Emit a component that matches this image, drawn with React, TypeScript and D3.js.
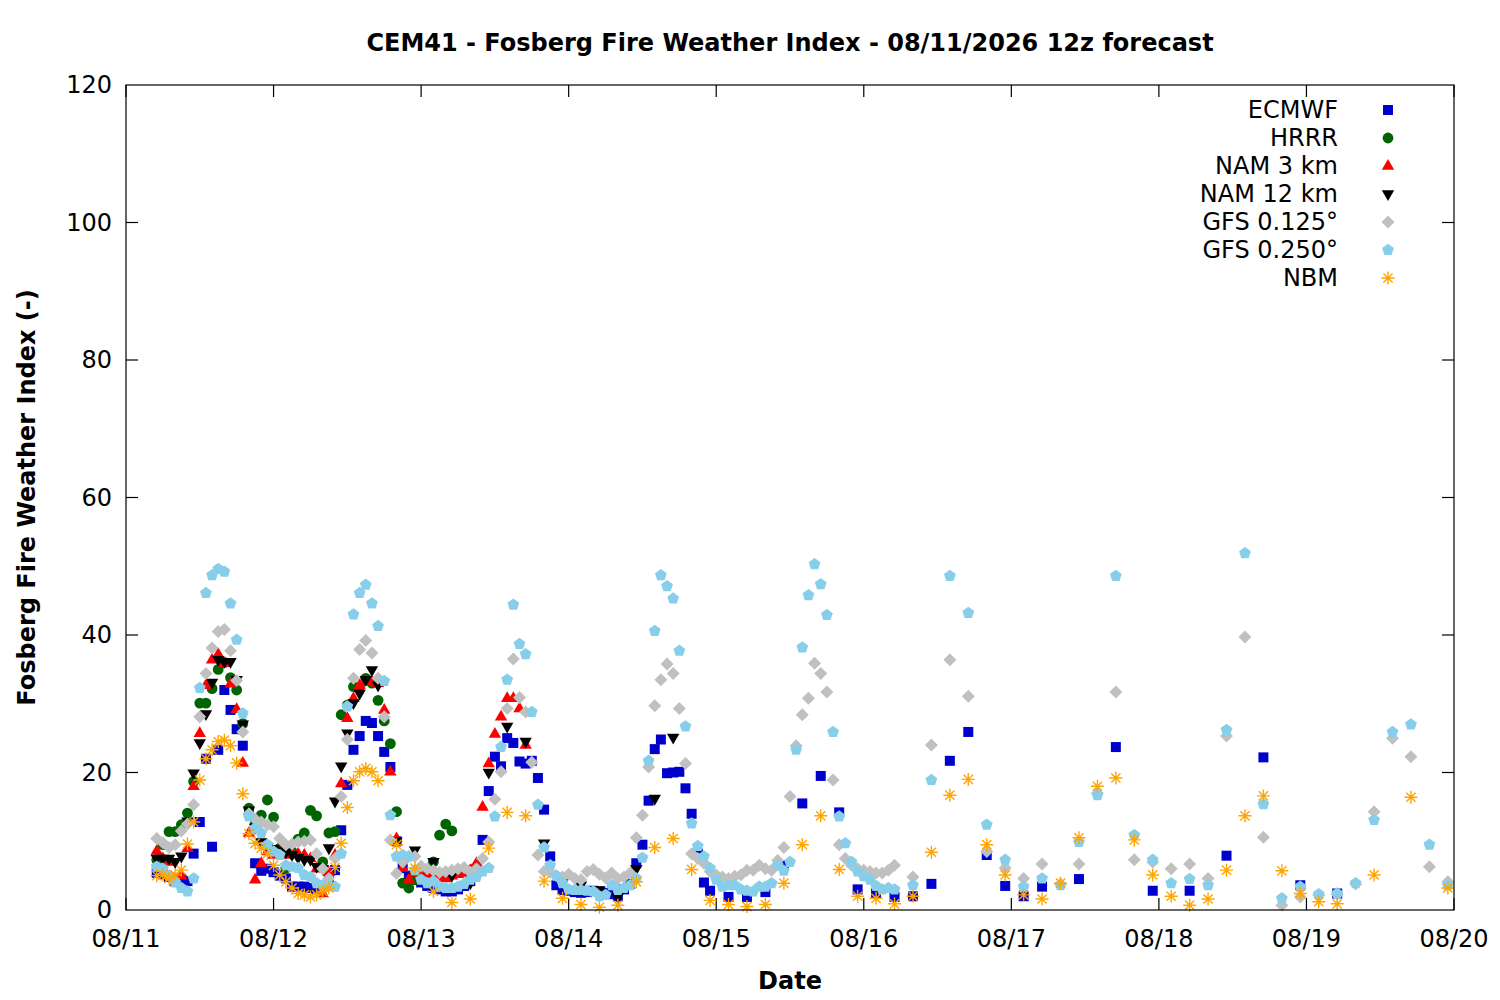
import React, { useEffect, useRef } from "react";
import * as d3 from "d3";

// run start (12z) shown in local time on the axis
const runStart = Date.UTC(2026, 7, 11, 5);
const axisStart = Date.UTC(2026, 7, 11);
const axisEnd = Date.UTC(2026, 7, 20);
const yTicks = [0, 20, 40, 60, 80, 100, 120];

// ECMWF: hourly to +90h, 3-hourly to +141h, 6-hourly after
const ecmwfHourly = [
  5.4, 5.2, 4.8, 4.6, 4.5, 4.2, 8.2, 12.8, 22.0, 9.2,
  23.3, 32.0, 29.1, 26.3, 23.9, 14.1, 6.8, 5.7, 6.0, 5.5,
  5.0, 4.6, 3.4, 3.4, 3.4, 3.2, 3.0, 3.5, 4.5, 5.8,
  11.6, 18.2, 23.3, 25.3, 27.5, 27.2, 25.3, 23.0, 20.8, 10.0,
  6.1, 5.0, 4.5, 4.0, 3.5, 3.2, 3.0, 2.7, 2.7, 3.0,
  3.5, 4.2, 6.0, 10.2, 17.3, 22.3, 20.9, 25.0, 24.3, 21.6,
  21.3, 21.7, 19.2, 14.6, 7.8, 3.6, 2.9, 2.8, 2.6, 2.5,
  2.6, 2.8, 2.7, 2.5, 2.3, 2.0, 3.0, 3.8, 6.8, 9.5,
  15.9, 23.4, 24.8, 19.9, 20.0, 20.1, 17.7, 14.0, 8.2, 4.0,
  2.8,
];
const ecmwf3h = [1.9, 1.9, 2.6, 6.5, 15.5, 19.5, 14.2, 3.0, 2.4, 1.9, 2.0, 3.8, 21.7, 25.9, 8.0, 3.5, 2.0];
const ecmwf6h = [3.4, 4.5, 23.7, 2.8, 2.8, 7.9, 22.2, 3.6, 2.4];

const hrrrHourly = [
  7.3, 9.5, 11.4, 11.4, 12.4, 14.1, 18.7, 30.1, 30.1, 32.2,
  35.0, 36.0, 33.8, 32.0, 27.1, 14.8, 12.5, 13.8, 16.0, 13.5,
  9.0, 6.1, 8.5, 10.3, 11.2, 14.5, 13.7, 7.0, 11.2, 11.4,
  28.4, 29.8, 32.5, 32.4, 33.7, 33.0, 30.5, 27.5, 24.2, 14.3,
  3.9, 3.2, 4.4, 4.8, 5.0, 7.0, 10.9, 12.5, 11.5,
];

const nam3Hourly = [
  8.6, 7.5, 7.0, 4.0, 5.0, 9.0, 18.0, 25.7, 32.7, 36.4,
  37.2, 35.9, 32.9, 29.2, 21.4, 11.2, 4.4, 6.8, 8.5, 8.0,
  8.7, 8.0, 8.2, 8.2, 8.0, 7.5, 6.0, 2.4, 5.5, 8.0,
  18.4, 27.9, 30.8, 32.7, 33.2, 33.2, 33.0, 29.1, 20.1, 10.4,
  6.1, 4.4, 5.4, 5.2, 5.0, 5.0, 4.8, 4.6, 5.0, 5.2,
  5.4, 5.8, 6.8, 15.0, 21.3, 25.6, 28.1, 30.8, 30.8, 29.3,
  24.0,
];

const nam12Hourly = [
  7.5, 7.5, 7.5, 7.0, 7.8, 12.9, 19.9, 24.3, 28.5, 33.1,
  36.4, 36.1, 36.1, 33.5, 27.0, 14.5, 12.0, 9.9, 9.2, 8.9,
  8.7, 8.4, 8.0, 7.6, 7.3, 7.3, 6.3, 6.0, 9.0, 15.8,
  20.9, 25.7, 30.1, 31.5, 33.5, 34.9, 32.7,
];
const nam12_3h = [10.0, 8.7, 7.0, 5.0, 3.9, 20.0, 26.7, 24.5, 9.7, 4.0, 3.6, 2.9, 1.9, 6.0, 16.2, 25.1];

const gfs125Hourly = [
  10.4, 9.8, 9.1, 9.5, 11.5, 12.5, 15.3, 28.1, 34.4, 38.1,
  40.5, 40.8, 37.7, 33.4, 25.9, 14.0, 13.2, 12.8, 12.4, 12.1,
  10.4, 9.5, 9.6, 9.9, 10.0, 10.2, 8.2, 6.0, 4.6, 7.5,
  16.5, 24.8, 33.7, 37.9, 39.2, 37.4, 33.7, 28.1, 10.2, 5.3,
  7.0, 7.8, 7.8, 6.4, 6.0, 5.8, 5.5, 5.6, 5.8, 6.0,
  6.2, 5.5, 6.0, 7.5, 9.9, 16.1, 20.1, 29.3, 36.5, 30.9,
  28.8, 21.5, 8.0, 5.6, 5.5, 5.0, 4.8, 5.2, 4.6, 4.4,
  5.6, 5.9, 5.2, 4.7, 5.4, 4.6, 4.8, 5.4, 10.5, 13.8,
  20.8, 29.7, 33.5, 35.8, 34.4, 29.3, 21.3, 8.2, 7.5, 6.8,
  5.6, 5.1, 4.8, 4.6, 4.9, 5.1, 5.8, 5.8, 6.5, 6.0,
  5.8, 7.2, 9.1, 16.5, 23.9, 28.4, 30.8, 35.9, 34.4, 31.7,
  18.9, 9.5, 7.5, 6.5, 6.0, 5.8, 5.6, 5.4, 5.4, 5.8,
  6.5,
];
const gfs125_3h = [
  4.8, 24.0, 36.4, 31.1, 8.5, 6.1, 4.6, 6.7, 3.8, 6.7,
  17.0, 31.7, 7.3, 7.0, 6.0, 6.7, 4.6, 25.3, 39.7, 10.6,
  0.7, 1.9, 2.2, 2.3, 3.8, 14.3, 25.0, 22.3, 6.3, 4.1,
];

const gfs250Hourly = [
  6.3, 6.0, 5.0, 4.0, 3.2, 2.7, 4.6, 32.3, 46.1, 48.7,
  49.6, 49.2, 44.6, 39.3, 28.6, 13.6, 11.9, 11.2, 9.5, 8.5,
  8.0, 6.5, 6.3, 6.1, 5.1, 4.8, 3.9, 3.6, 3.5, 3.4,
  8.2, 29.6, 43.0, 46.1, 47.3, 44.6, 41.3, 33.3, 13.8, 7.8,
  8.0, 7.8, 5.8, 4.4, 3.9, 4.2, 3.4, 3.2, 3.2, 3.4,
  3.8, 4.4, 4.8, 5.6, 6.1, 13.6, 23.7, 33.5, 44.4, 38.7,
  37.2, 28.8, 15.3, 9.1, 6.5, 5.0, 3.9, 3.0, 2.9, 2.9,
  2.8, 2.7, 2.0, 2.2, 3.6, 2.9, 3.2, 3.6, 4.6, 7.6,
  21.7, 40.6, 48.7, 47.1, 45.3, 37.7, 26.7, 12.6, 9.3, 7.8,
  6.1, 4.4, 3.4, 3.6, 3.6, 3.0, 2.8, 2.7, 3.4, 3.4,
  3.9, 6.5, 5.7, 7.0, 23.3, 38.2, 45.8, 50.3, 47.4, 42.9,
  25.9, 13.6, 9.7, 7.0, 5.6, 4.9, 4.4, 3.5, 3.0, 3.2,
  3.0,
];
const gfs250_3h = [
  3.6, 18.9, 48.6, 43.2, 12.4, 7.3, 3.4, 4.6, 3.6, 9.9,
  16.7, 48.6, 10.9, 7.3, 3.9, 4.5, 3.6, 26.2, 51.9, 15.4,
  1.7, 3.4, 2.3, 2.4, 3.9, 13.1, 25.9, 27.0, 9.5, 3.6,
];

const nbmHourly = [
  5.0, 5.1, 4.6, 5.1, 5.8, 9.6, 12.8, 18.9, 22.0, 23.3,
  24.5, 24.7, 23.9, 21.4, 16.9, 11.1, 9.7, 9.0, 8.2, 6.5,
  5.1, 4.1, 3.2, 2.4, 2.2, 1.9, 2.2, 2.7, 3.2, 6.2,
  9.7, 14.9, 18.8, 20.1, 20.6, 20.1, 18.8,
];
const nbm3h = [
  9.5, 6.1, 2.7, 1.1, 1.6, 9.0, 14.2, 13.7, 4.2, 1.7,
  0.8, 0.4, 0.7, 4.1, 9.1, 10.4, 5.9, 1.4, 0.8, 0.5,
  0.8, 3.9, 9.5, 13.7, 5.9, 2.0, 1.7, 0.9, 2.0, 8.4,
  16.7, 19.0, 9.5, 5.1, 2.2, 1.6, 3.9, 10.5, 18.0, 19.2,
  10.2, 5.1, 2.0, 0.7, 1.6, 5.8, 13.7, 16.6, 5.7, 2.4,
  1.2,
];
const nbm6h = [0.9, 5.1, 16.4, 3.2];

type Seg = [number, number, number[]]; // first lead hour, step, values

const series: { name: string; color: string; shape: string; segs: Seg[] }[] = [
  { name: "ECMWF", color: "#0000cc", shape: "square", segs: [[0, 1, ecmwfHourly], [93, 3, ecmwf3h], [144, 6, ecmwf6h]] },
  { name: "HRRR", color: "#006400", shape: "circle", segs: [[0, 1, hrrrHourly]] },
  { name: "NAM 3 km", color: "#ff0000", shape: "triUp", segs: [[0, 1, nam3Hourly]] },
  { name: "NAM 12 km", color: "#000000", shape: "triDown", segs: [[0, 1, nam12Hourly], [39, 3, nam12_3h]] },
  { name: "GFS 0.125°", color: "#c0c0c0", shape: "diamond", segs: [[0, 1, gfs125Hourly], [123, 3, gfs125_3h]] },
  { name: "GFS 0.250°", color: "#87ceeb", shape: "pentagon", segs: [[0, 1, gfs250Hourly], [123, 3, gfs250_3h]] },
  { name: "NBM", color: "#ffa500", shape: "star", segs: [[0, 1, nbmHourly], [39, 3, nbm3h], [192, 6, nbm6h]] },
];

const shapePath = (shape: string): string => {
  switch (shape) {
    case "square":
      return "M-5,-5H5V5H-5Z";
    case "circle":
      return "M5.4,0A5.4,5.4 0 1,1 -5.4,0A5.4,5.4 0 1,1 5.4,0Z";
    case "triUp":
      return "M0,-7L6.2,3.8L-6.2,3.8Z";
    case "triDown":
      return "M0,7L6.2,-3.8L-6.2,-3.8Z";
    case "diamond":
      return "M0,-6.5L6.5,0L0,6.5L-6.5,0Z";
    case "pentagon": {
      const pts = d3.range(5).map((i) => {
        const a = -Math.PI / 2 + (i * 2 * Math.PI) / 5;
        return [6.2 * Math.cos(a), 6.2 * Math.sin(a)];
      });
      return "M" + pts.map((p) => p.join(",")).join("L") + "Z";
    }
    default:
      return "M-6.5,0H6.5M0,-6.5V6.5M-4.6,-4.6L4.6,4.6M-4.6,4.6L4.6,-4.6";
  }
};

const App: React.FC = () => {
  const ref = useRef<SVGSVGElement | null>(null);

  useEffect(() => {
    const W = 1500, H = 1000;
    const m = { top: 85, right: 46, bottom: 90, left: 126 };
    const font = "'DejaVu Sans', sans-serif";
    const fs = 24;

    const svg = d3.select(ref.current);
    svg.selectAll("*").remove();
    svg.attr("width", W).attr("height", H);
    svg.append("rect").attr("width", W).attr("height", H).attr("fill", "#fff");

    const x = d3.scaleUtc().domain([axisStart, axisEnd]).range([m.left, W - m.right]);
    const y = d3.scaleLinear().domain([0, 120]).range([H - m.bottom, m.top]);

    const x0 = m.left, x1 = W - m.right, y0 = H - m.bottom, y1 = m.top;
    const tl = 12;

    const axes = svg.append("g").attr("stroke", "#000").attr("stroke-width", 1.2);
    // y ticks, mirrored on right
    yTicks.forEach((t) => {
      if (t === 0 || t === 120) return;
      axes.append("line").attr("x1", x0).attr("x2", x0 + tl).attr("y1", y(t)).attr("y2", y(t));
      axes.append("line").attr("x1", x1).attr("x2", x1 - tl).attr("y1", y(t)).attr("y2", y(t));
    });
    const days = x.ticks(d3.utcDay.every(1)!);
    days.forEach((d) => {
      axes.append("line").attr("x1", x(d)).attr("x2", x(d)).attr("y1", y0).attr("y2", y0 - tl);
      axes.append("line").attr("x1", x(d)).attr("x2", x(d)).attr("y1", y1).attr("y2", y1 + tl);
    });

    const labels = svg.append("g").attr("font-family", font).attr("fill", "#000");
    yTicks.forEach((t) => {
      labels.append("text").attr("x", x0 - 14).attr("y", y(t)).attr("dy", "0.35em")
        .attr("text-anchor", "end").attr("font-size", fs).text(t);
    });
    const fmt = d3.utcFormat("%m/%d");
    days.forEach((d) => {
      labels.append("text").attr("x", x(d)).attr("y", y0 + 37)
        .attr("text-anchor", "middle").attr("font-size", fs).text(fmt(d));
    });

    labels.append("text").attr("x", (x0 + x1) / 2).attr("y", 51).attr("text-anchor", "middle")
      .attr("font-size", fs).attr("font-weight", "bold")
      .text("CEM41 - Fosberg Fire Weather Index - 08/11/2026 12z forecast");
    labels.append("text").attr("x", (x0 + x1) / 2).attr("y", 989).attr("text-anchor", "middle")
      .attr("font-size", fs).attr("font-weight", "bold").text("Date");
    labels.append("text").attr("transform", `translate(35,${(y0 + y1) / 2}) rotate(-90)`)
      .attr("text-anchor", "middle").attr("font-size", fs).attr("font-weight", "bold")
      .text("Fosberg Fire Weather Index (-)");

    const plot = svg.append("g");
    series.forEach((s) => {
      const pts = s.segs.flatMap(([start, step, vals]) =>
        vals.map((v, i) => ({ t: runStart + (start + i * step) * 3600e3, v }))
      );
      const isStar = s.shape === "star";
      plot.append("g").selectAll("path").data(pts).join("path")
        .attr("d", shapePath(s.shape))
        .attr("transform", (d) => `translate(${x(d.t)},${y(d.v)})`)
        .attr("fill", isStar ? "none" : s.color)
        .attr("stroke", isStar ? s.color : "none")
        .attr("stroke-width", isStar ? 1.4 : 0);
    });

    // border
    svg.append("rect").attr("x", x0).attr("y", y1).attr("width", x1 - x0).attr("height", y0 - y1)
      .attr("fill", "none").attr("stroke", "#000").attr("stroke-width", 1.2);

    // legend
    const lg = svg.append("g").attr("font-family", font);
    series.forEach((s, i) => {
      const ly = 110 + i * 28;
      lg.append("text").attr("x", 1338).attr("y", ly).attr("dy", "0.35em").attr("text-anchor", "end")
        .attr("font-size", fs).attr("fill", "#000").text(s.name);
      const isStar = s.shape === "star";
      lg.append("path").attr("d", shapePath(s.shape)).attr("transform", `translate(1388,${ly})`)
        .attr("fill", isStar ? "none" : s.color)
        .attr("stroke", isStar ? s.color : "none")
        .attr("stroke-width", isStar ? 1.4 : 0);
    });
  }, []);

  return <svg ref={ref} style={{ position: "absolute", left: 0, top: 0 }} />;
};

export default App;
